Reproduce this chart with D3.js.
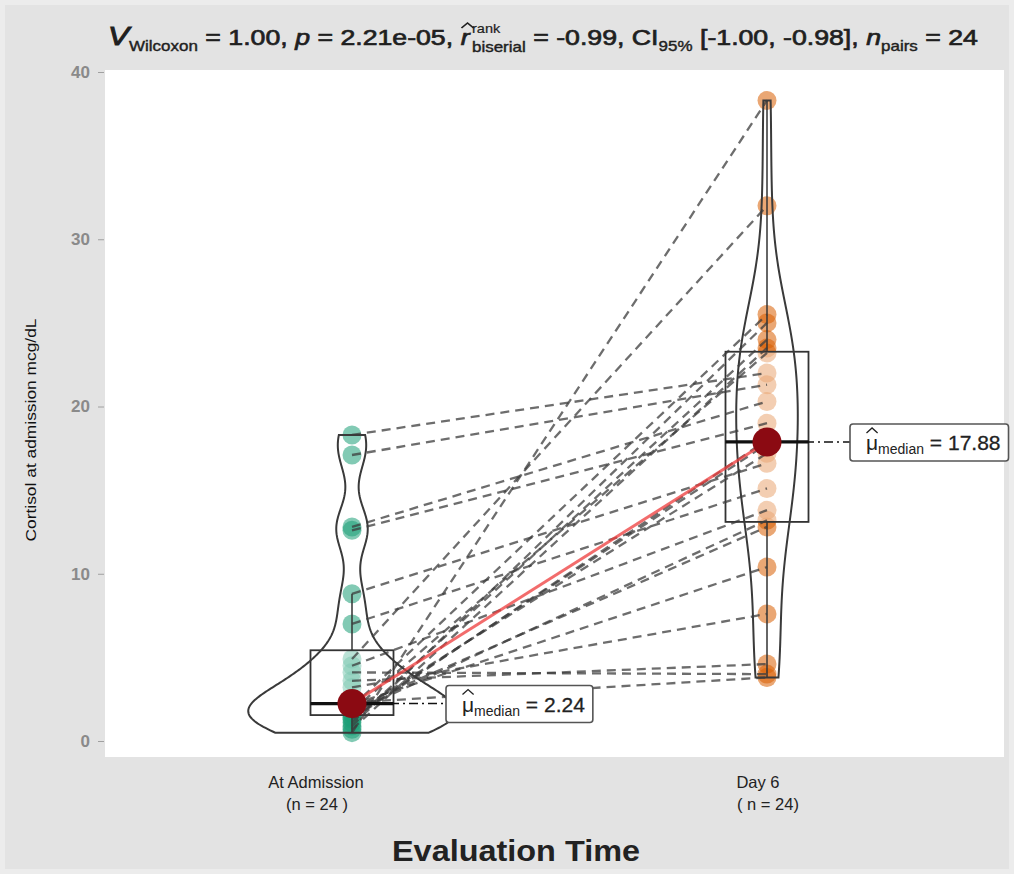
<!DOCTYPE html>
<html><head><meta charset="utf-8">
<script src="https://cdn.jsdelivr.net/npm/d3@7"></script>
<style>
body{margin:0;background:#e3e3e3;}
svg{display:block;font-family:"Liberation Sans",Arial,Helvetica,sans-serif;}
</style>
</head><body>
<svg id="c" width="1014" height="874"></svg>
<script>
// ---------- data ----------
const categories = ["At Admission", "Day 6"];
const countLabels = ["(n = 24 )", "( n = 24)"];
// paired observations (same subject index in both arrays)
const admission = [18.3, 17.1, 12.8, 12.6, 8.8, 7.0, 4.9, 4.5, 4.1, 3.6, 3.2, 2.3,
                   2.18, 2.05, 1.95, 1.8, 1.7, 1.6, 1.4, 1.3, 1.1, 0.9, 0.7, 0.5];
const day6      = [22.0, 21.3, 20.3, 19.0, 16.6, 15.1, 32.0, 13.8, 4.0, 4.6, 7.6, 3.8,
                   10.4, 25.5, 12.8, 23.2, 13.2, 17.2, 17.76, 18.0, 24.0, 25.0, 23.5, 38.3];
const yTicks = [0, 10, 20, 30, 40];
const yTitle = "Cortisol at admission mcg/dL";
const xTitle = "Evaluation Time";

// ---------- setup ----------
const W = 1014, H = 874;
const svg = d3.select("#c");
const groups = [admission, day6];
const fillColors = ["#1B9E77", "#D95F02"];
const y = d3.scaleLinear().domain([0, 40]).range([741, 72]);
const x = d3.scalePoint().domain(categories).range([352, 767]);
const step = x(categories[1]) - x(categories[0]);

svg.append("rect").attr("width", W).attr("height", H).attr("fill", "#e3e3e3");
svg.append("rect").attr("x", 0).attr("y", 0).attr("width", W).attr("height", H)
  .attr("fill", "none").attr("stroke", "#ececec").attr("stroke-width", 10);
// panel
svg.append("rect").attr("x", 105).attr("y", 70).attr("width", 899).attr("height", 687).attr("fill", "#ffffff");

// y axis
const yAxis = svg.append("g").attr("transform", "translate(104,0)")
  .call(d3.axisLeft(y).tickValues(yTicks).tickSize(6).tickPadding(8));
yAxis.select(".domain").remove();
yAxis.selectAll("line").attr("stroke", "#a0a0a0");
yAxis.selectAll("text").attr("fill", "#8a8a8a").attr("font-size", 17).attr("font-weight", "bold")
  .attr("font-family", '"Liberation Sans",Arial,sans-serif');

svg.append("text").attr("transform", "translate(36,430) rotate(-90)")
  .attr("text-anchor", "middle").attr("font-size", 15.5).attr("fill", "#111")
  .attr("textLength", 223).attr("lengthAdjust", "spacingAndGlyphs").text(yTitle);

// x labels
const xl = svg.append("g");
const offs = [[-36, -35], [-9, 1]];
categories.forEach((c, i) => {
  xl.append("text").attr("x", x(c) + offs[i][0]).attr("y", 788).attr("text-anchor", "middle")
    .attr("font-size", 16.5).attr("fill", "#222").text(c);
  xl.append("text").attr("x", x(c) + offs[i][1]).attr("y", 810).attr("text-anchor", "middle")
    .attr("font-size", 16.5).attr("fill", "#222").style("white-space", "pre").text(countLabels[i]);
});
svg.append("text").attr("x", 516).attr("y", 861).attr("text-anchor", "middle")
  .attr("font-size", 30).attr("font-weight", "bold").attr("fill", "#222")
  .attr("textLength", 248).attr("lengthAdjust", "spacingAndGlyphs").text(xTitle);

// ---------- stats ----------
function bwNrd0(v) {
  const s = d3.deviation(v);
  const so = v.slice().sort(d3.ascending);
  const iqr = d3.quantile(so, 0.75) - d3.quantile(so, 0.25);
  return 0.9 * Math.min(s, iqr / 1.34) * Math.pow(v.length, -0.2);
}
function kde(v, bw) {
  const lo = d3.min(v), hi = d3.max(v), n = 256;
  const out = [];
  for (let k = 0; k <= n; k++) {
    const t = lo + (hi - lo) * k / n;
    const d = d3.mean(v, xi => Math.exp(-0.5 * ((t - xi) / bw) ** 2)) / (bw * Math.sqrt(2 * Math.PI));
    out.push([t, d]);
  }
  return out;
}
const dens = groups.map(v => kde(v, bwNrd0(v)));
const maxD = d3.max(dens, d => d3.max(d, p => p[1]));
const halfW = d3.scaleLinear().domain([0, maxD]).range([0, 0.25 * step]);

const stats = groups.map(v => {
  const so = v.slice().sort(d3.ascending);
  const q1 = d3.quantile(so, 0.25), q3 = d3.quantile(so, 0.75), med = d3.median(so);
  const iqr = q3 - q1;
  const lw = d3.min(so.filter(d => d >= q1 - 1.5 * iqr));
  const uw = d3.max(so.filter(d => d <= q3 + 1.5 * iqr));
  return {q1, q3, med, lw, uw};
});

// ---------- marks ----------
// points
groups.forEach((v, i) => {
  svg.append("g").selectAll("circle").data(v).join("circle")
    .attr("cx", x(categories[i])).attr("cy", d => y(d)).attr("r", 9.5)
    .attr("fill", fillColors[i]).attr("fill-opacity", 0.55);
});
// boxes
const boxHalf = 0.1 * step;
stats.forEach((s, i) => {
  const cx = x(categories[i]);
  const g = svg.append("g");
  g.append("line").attr("x1", cx).attr("x2", cx).attr("y1", y(s.q3)).attr("y2", y(s.uw))
    .attr("stroke", "#333").attr("stroke-width", 1.5);
  g.append("line").attr("x1", cx).attr("x2", cx).attr("y1", y(s.q1)).attr("y2", y(s.lw))
    .attr("stroke", "#333").attr("stroke-width", 1.5);
  g.append("rect").attr("x", cx - boxHalf).attr("width", 2 * boxHalf)
    .attr("y", y(s.q3)).attr("height", y(s.q1) - y(s.q3))
    .attr("fill", "#fff").attr("fill-opacity", 0.45).attr("stroke", "#333").attr("stroke-width", 1.8);
});
// violins
dens.forEach((d, i) => {
  const cx = x(categories[i]);
  const area = d3.area().y(p => y(p[0])).x0(p => cx - halfW(p[1])).x1(p => cx + halfW(p[1]));
  svg.append("path").attr("d", area(d)).attr("fill", "none").attr("stroke", "#3a3a3a").attr("stroke-width", 2);
});
// paired dashed lines
svg.append("g").selectAll("line").data(d3.range(admission.length)).join("line")
  .attr("x1", x(categories[0])).attr("y1", k => y(admission[k]))
  .attr("x2", x(categories[1])).attr("y2", k => y(day6[k]))
  .attr("stroke", "#3c3c3c").attr("stroke-opacity", 0.75).attr("stroke-width", 2.3)
  .attr("stroke-dasharray", "9,6");
// median lines in boxes
stats.forEach((s, i) => {
  const cx = x(categories[i]);
  svg.append("line").attr("x1", cx - boxHalf).attr("x2", cx + boxHalf)
    .attr("y1", y(s.med)).attr("y2", y(s.med)).attr("stroke", "#111").attr("stroke-width", 3.2);
});
// red line joining medians
svg.append("line").attr("x1", x(categories[0])).attr("y1", y(stats[0].med))
  .attr("x2", x(categories[1])).attr("y2", y(stats[1].med))
  .attr("stroke", "#ee3b3b").attr("stroke-opacity", 0.75).attr("stroke-width", 3);

// median labels
const labelStart = [446, 850];
stats.forEach((s, i) => {
  const cx = x(categories[i]), cy = y(s.med);
  svg.append("line").attr("x1", cx).attr("x2", labelStart[i]).attr("y1", cy).attr("y2", cy)
    .attr("stroke", "#111").attr("stroke-width", 1.6).attr("stroke-dasharray", "9,4,2,4");
  const g = svg.append("g");
  const padL = 16, padR = 8;
  const mu = g.append("text").attr("x", padL).attr("y", 0).attr("font-size", 21).attr("fill", "#222").text("μ");
  const muW = mu.node().getComputedTextLength();
  g.append("path").attr("d", `M${padL + 0.5},-17 L${padL + muW / 2},-22 L${padL + muW - 0.5},-17`)
    .attr("fill", "none").attr("stroke", "#222").attr("stroke-width", 1.3);
  let xx = padL + muW;
  const sub = g.append("text").attr("x", xx).attr("y", 4).attr("font-size", 14).attr("fill", "#222").text("median");
  xx += sub.node().getComputedTextLength();
  const eq = g.append("text").attr("x", xx).attr("y", 0).attr("font-size", 21).attr("fill", "#222")
    .attr("stroke", "#222").attr("stroke-width", 0.3)
    .style("white-space", "pre").text(" = " + d3.format(".2f")(s.med));
  xx += eq.node().getComputedTextLength() + padR;
  g.insert("rect", ":first-child").attr("x", 0).attr("y", -26).attr("width", xx).attr("height", 37)
    .attr("rx", 3).attr("fill", "#fff").attr("stroke", "#555").attr("stroke-width", 1.6);
  g.attr("transform", `translate(${labelStart[i]},${cy + 8})`);
});

// median points
stats.forEach((s, i) => {
  svg.append("circle").attr("cx", x(categories[i])).attr("cy", y(s.med)).attr("r", 14.5).attr("fill", "#8b0a12");
});

// ---------- title ----------
(function title() {
  const g = svg.append("g");
  let xx = 0;
  const base = 22, small = 14;
  const col = "#1f1f1f";
  function seg(t, o = {}) {
    const el = g.append("text").attr("x", o.x != null ? o.x : xx).attr("y", o.dy || 0)
      .attr("font-size", o.size || base).attr("fill", col).style("white-space", "pre")
      .attr("stroke", col).attr("stroke-width", o.sw != null ? o.sw : 0.7)
      .attr("font-style", o.it ? "italic" : "normal").text(t);
    return el.node().getComputedTextLength();
  }
  xx += seg("V", {it: true, size: 26, sw: 1});
  xx += seg("Wilcoxon", {size: small, dy: 6, sw: 0.4});
  xx += seg(" = 1.00, ");
  xx += seg("p", {it: true});
  xx += seg(" = 2.21e-05, ");
  const rw = seg("r", {it: true});
  const hx = xx + rw / 2 + 2;
  g.append("path").attr("d", `M${hx - 5},-17 L${hx},-22 L${hx + 5},-17`)
    .attr("fill", "none").attr("stroke", col).attr("stroke-width", 1.4);
  xx += rw + 2;
  const w1 = seg("rank", {size: 12, dy: -12, x: xx, sw: 0.2});
  const w2 = seg("biserial", {size: small, dy: 7, x: xx, sw: 0.4});
  xx += Math.max(w1, w2);
  xx += seg(" = -0.99, CI");
  xx += seg("95%", {size: small, dy: 6, sw: 0.4});
  xx += seg(" [-1.00, -0.98], ");
  xx += seg("n", {it: true});
  xx += seg("pairs", {size: small, dy: 6, sw: 0.4});
  xx += seg(" = 24");
  const target = 870;
  const sc = target / xx;
  g.attr("transform", `translate(108,45) scale(${sc},1)`);
})();
</script>
</body></html>
